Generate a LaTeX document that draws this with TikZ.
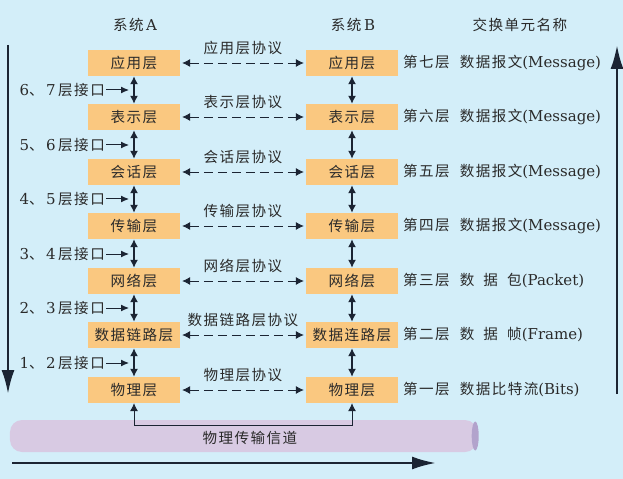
\documentclass[tikz,border=0pt]{standalone}
\usepackage{fontspec}
\setmainfont{DejaVu Serif}
\newfontfamily\cjk[Scale=0.97,LetterSpace=10]{Noto Sans CJK SC}
\usetikzlibrary{arrows.meta, positioning, shapes.geometric}

\definecolor{bgblue}{HTML}{D3EEF9}
\definecolor{boxorange}{HTML}{FAC880}
\definecolor{pipeviolet}{HTML}{D8CAE3}
\definecolor{pipeend}{HTML}{B2A3CC}
\definecolor{linedark}{HTML}{1B2433}
\definecolor{inkdark}{HTML}{2A2A2A}

\begin{document}
\begin{tikzpicture}[x=1bp, y=-1bp,
      font=\fontsize{15bp}{18bp}\selectfont, text=inkdark,
      layer/.style={fill=boxorange, minimum width=92bp, minimum height=26bp,
        inner sep=0pt},
      proto/.style={{Latex[length=8bp,width=8bp]}-{Latex[length=8bp,width=8bp]},
        dash pattern=on 9bp off 5bp, line width=0.8bp, draw=linedark,
        shorten <=2bp, shorten >=2bp},
      updown/.style={{Latex[length=8bp,width=8bp]}-{Latex[length=8bp,width=8bp]},
        line width=1.3bp, draw=linedark},
      iface/.style={-{Latex[length=8bp,width=7bp]}, line width=1bp,
        draw=linedark, shorten >=5bp},
      bigarrow/.style={-{Latex[length=24bp,width=13bp]}, line width=2.6bp,
        draw=linedark},
      feed/.style={-{Latex[length=8bp,width=8bp]}, line width=0.8bp,
        draw=linedark},
      unit/.style={anchor=west, inner sep=0pt},
      lab/.style={inner sep=1pt}
    ]
    \fill[bgblue] (0,0) rectangle (623,479);
    \useasboundingbox (0,0) rectangle (623,479);

    % headings
    \node[lab] (sysA) at (135,25) {{\cjk 系统}\,A};
    \node[lab] (sysB) at (353,25) {{\cjk 系统}\,B};
    \node[lab] (units) at (520,25) {\cjk 交换单元名称};

    % system A
    \node[layer] at (134, 63) (a1) {\cjk 应用层};
    \node[layer] at (134,117) (a2) {\cjk 表示层};
    \node[layer] at (134,172) (a3) {\cjk 会话层};
    \node[layer] at (134,226) (a4) {\cjk 传输层};
    \node[layer] at (134,281) (a5) {\cjk 网络层};
    \node[layer] at (134,335) (a6) {\cjk 数据链路层};
    \node[layer] at (134,390) (a7) {\cjk 物理层};

    % system B
    \node[layer] at (352, 63) (b1) {\cjk 应用层};
    \node[layer] at (352,117) (b2) {\cjk 表示层};
    \node[layer] at (352,172) (b3) {\cjk 会话层};
    \node[layer] at (352,226) (b4) {\cjk 传输层};
    \node[layer] at (352,281) (b5) {\cjk 网络层};
    \node[layer] at (352,335) (b6) {\cjk 数据连路层};
    \node[layer] at (352,390) (b7) {\cjk 物理层};

    % peer protocols
    \draw[proto] (a1) -- node[lab, above=7bp]{\cjk 应用层协议} (b1);
    \draw[proto] (a2) -- node[lab, above=7bp]{\cjk 表示层协议} (b2);
    \draw[proto] (a3) -- node[lab, above=7bp]{\cjk 会话层协议} (b3);
    \draw[proto] (a4) -- node[lab, above=7bp]{\cjk 传输层协议} (b4);
    \draw[proto] (a5) -- node[lab, above=7bp]{\cjk 网络层协议} (b5);
    \draw[proto] (a6) -- node[lab, above=7bp]{\cjk 数据链路层协议} (b6);
    \draw[proto] (a7) -- node[lab, above=7bp]{\cjk 物理层协议} (b7);

    % layer interfaces
    \draw[updown] (a1) -- (a2);
    \draw[updown] (a2) -- (a3);
    \draw[updown] (a3) -- (a4);
    \draw[updown] (a4) -- (a5);
    \draw[updown] (a5) -- (a6);
    \draw[updown] (a6) -- (a7);
    \draw[updown] (b1) -- (b2);
    \draw[updown] (b2) -- (b3);
    \draw[updown] (b3) -- (b4);
    \draw[updown] (b4) -- (b5);
    \draw[updown] (b5) -- (b6);
    \draw[updown] (b6) -- (b7);

    \node[lab, anchor=east] at (106, 90) (if67) {6{\cjk 、}\,7\,{\cjk 层接口}};
    \node[lab, anchor=east] at (106,145) (if56) {5{\cjk 、}\,6\,{\cjk 层接口}};
    \node[lab, anchor=east] at (106,199) (if45) {4{\cjk 、}\,5\,{\cjk 层接口}};
    \node[lab, anchor=east] at (106,254) (if34) {3{\cjk 、}\,4\,{\cjk 层接口}};
    \node[lab, anchor=east] at (106,308) (if23) {2{\cjk 、}\,3\,{\cjk 层接口}};
    \node[lab, anchor=east] at (106,363) (if12) {1{\cjk 、}\,2\,{\cjk 层接口}};
    \draw[iface] (if67.east) -- (if67.east -| a1);
    \draw[iface] (if56.east) -- (if56.east -| a1);
    \draw[iface] (if45.east) -- (if45.east -| a1);
    \draw[iface] (if34.east) -- (if34.east -| a1);
    \draw[iface] (if23.east) -- (if23.east -| a1);
    \draw[iface] (if12.east) -- (if12.east -| a1);

    % exchanged units
    \node[unit] at (403, 63) (u7) {{\cjk 第七层\hspace{10bp}数据报文}(Message)};
    \node[unit] at (403,117) (u6) {{\cjk 第六层\hspace{10bp}数据报文}(Message)};
    \node[unit] at (403,172) (u5) {{\cjk 第五层\hspace{10bp}数据报文}(Message)};
    \node[unit] at (403,226) (u4) {{\cjk 第四层\hspace{10bp}数据报文}(Message)};
    \node[unit] at (403,281) (u3)
      {{\cjk 第三层\hspace{10bp}\makebox[62bp][s]{数\hfill 据\hfill 包}}(Packet)};
    \node[unit] at (403,335) (u2)
      {{\cjk 第二层\hspace{10bp}\makebox[62bp][s]{数\hfill 据\hfill 帧}}(Frame)};
    \node[unit] at (403,390) (u1) {{\cjk 第一层\hspace{10bp}数据比特流}(Bits)};

    % physical channel
    \node[fill=pipeviolet, rounded corners=12bp, minimum width=467bp,
      minimum height=32bp, inner sep=0pt] at (243.5,436) (chan) {};
    \node[lab] at (250,438) (chanlab) {\cjk 物理传输信道};
    \node[fill=pipeend, ellipse, minimum width=7bp, minimum height=29bp,
      inner sep=0pt] at ([xshift=-2bp]chan.east) (chanend) {};
    \coordinate (tap) at (134,425);
    \draw[feed] (tap) -- (a7);
    \draw[feed] (tap) -| (b7);

    % direction arrows
    \coordinate (downtop) at (8,45);
    \coordinate (downend) at (8,394);
    \coordinate (uptop) at (617,45);
    \coordinate (upend) at (617,394);
    \coordinate (flowstart) at (12,463);
    \coordinate (flowend) at (436,463);
    \draw[bigarrow] (downtop) -- (downend);
    \draw[bigarrow] (upend) -- (uptop);
    \draw[bigarrow] (flowstart) -- (flowend);
  \end{tikzpicture}
\end{document}
